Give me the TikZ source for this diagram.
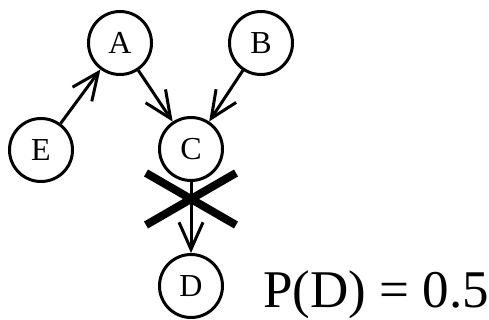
\documentclass[tikz,border=0pt]{standalone}
\usepackage{fontspec}
\setmainfont{Liberation Serif}
\usetikzlibrary{arrows.meta}
\begin{document}
\begin{tikzpicture}[x=1pt,y=-1pt,
  var/.style={circle,draw,line width=3pt,minimum size=63pt,inner sep=0pt,font=\fontsize{32}{32}\selectfont},
  edge/.style={line width=3pt,-{Straight Barb[length=27pt,width=24pt,line width=3pt]}},
  crossline/.style={line width=8pt}]
\useasboundingbox (0,0) rectangle (489,320);
\node[var] (A) at (120,43) {A};
\node[var] (B) at (261,43) {B};
\node[var] (E) at (41,150) {E};
\node[var] (C) at (191,149) {C};
\node[var] (D) at (191,286) {D};
\draw[edge] (E) -- (A);
\draw[edge] (A) -- (C);
\draw[edge] (B) -- (C);
\draw[edge] (C) -- (D);
\coordinate (x1) at (146,173);
\coordinate (x2) at (236,225);
\coordinate (x3) at (236,173);
\coordinate (x4) at (146,225);
\draw[crossline] (x1) -- (x2);
\draw[crossline] (x3) -- (x4);
\node[anchor=base west,inner sep=0pt,font=\fontsize{53}{53}\selectfont] (P) at (263,307) {P(D) = 0.5};
\end{tikzpicture}
\end{document}
